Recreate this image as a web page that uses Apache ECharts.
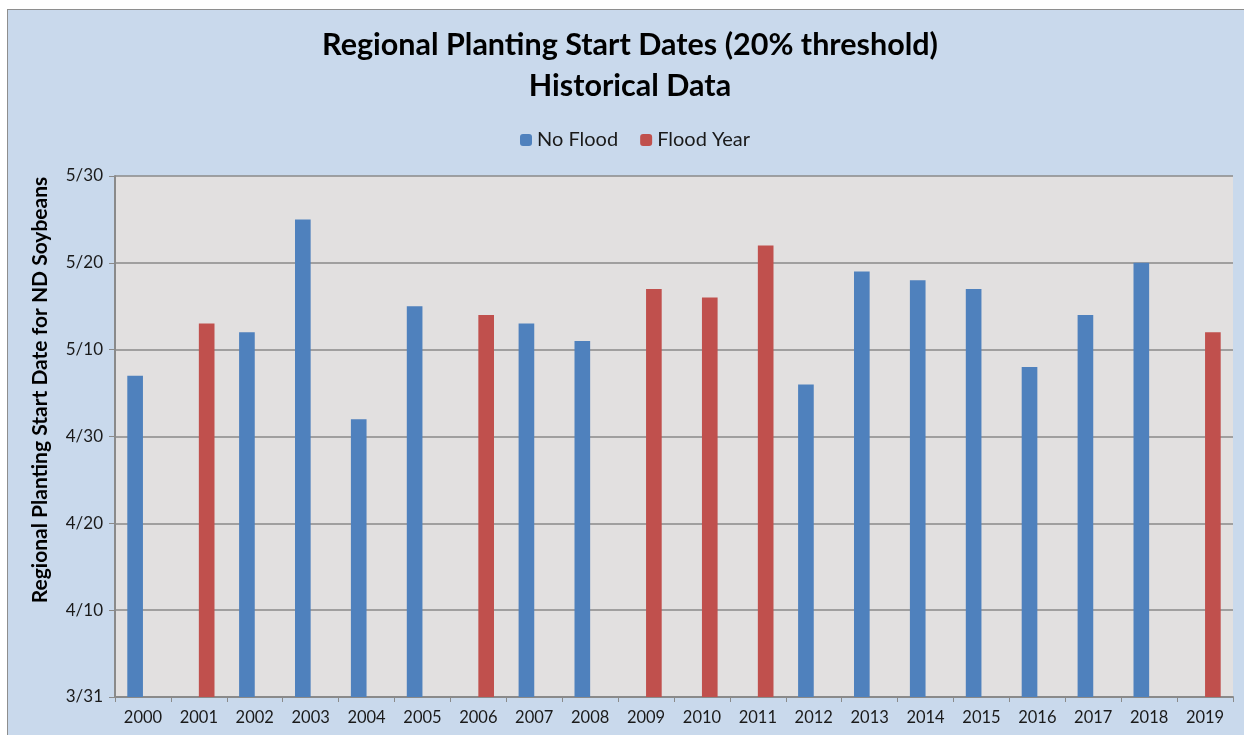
<!DOCTYPE html>
<html>
<head>
    <meta charset="utf-8">
    <title>Regional Planting Start Dates</title>
    <script src="https://cdn.jsdelivr.net/npm/echarts@6/dist/echarts.min.js"></script>
    <style>
        * {
            margin: 0;
            padding: 0;
        }
        body, html {
            background: #ffffff;
            overflow: hidden;
        }
        #frame {
            position: absolute;
            left: 7px;
            top: 9px;
            width: 1260px;
            height: 760px;
            background: #c9d9ec;
            border: 1px solid #8e8e8e;
        }
        #main {
            position: absolute;
            left: 0;
            top: 0;
            width: 1244px;
            height: 735px;
        }
    </style>
</head>
<body>
<div id="frame"></div>
<div id="main"></div>
<script>
    // categories
    var years = ['2000','2001','2002','2003','2004','2005','2006','2007','2008','2009',
                 '2010','2011','2012','2013','2014','2015','2016','2017','2018','2019'];
    // planting start dates (m/d), null where the year belongs to the other series
    var noFloodDates = ['5/7', null, '5/12', '5/25', '5/2', '5/15', null, '5/13', '5/11', null,
                        null, null, '5/6', '5/19', '5/18', '5/17', '5/8', '5/14', '5/20', null];
    var floodDates   = [null, '5/13', null, null, null, null, '5/14', null, null, '5/17',
                        '5/16', '5/22', null, null, null, null, null, null, null, '5/12'];
    // y tick labels, every 10 days from 3/31
    var dateTicks = ['3/31', '4/10', '4/20', '4/30', '5/10', '5/20', '5/30'];

    // days after 3/31
    function dayOf(s) {
        if (s === null) return null;
        var p = s.split('/');
        var m = +p[0], d = +p[1];
        if (m === 3) return d - 31;
        if (m === 4) return d;
        return 30 + d;
    }

    var font = 'Lato';
    var chart = echarts.init(document.getElementById('main'));
    var option = {
        backgroundColor: 'transparent',
        animation: false,
        textStyle: { fontFamily: font },
        legend: {
            top: 125,
            left: 515,
            itemWidth: 12,
            itemHeight: 12,
            itemGap: 22,
            textStyle: { fontFamily: font, fontSize: 20, color: '#1a1a1a' },
            data: ['No Flood', 'Flood Year']
        },
        graphic: [
            {
                // chart title, two centred lines
                type: 'text',
                x: 630,
                y: 66,
                style: {
                    text: 'Regional Planting Start Dates (20% threshold)\nHistorical Data',
                    fontFamily: font,
                    fontSize: 30.5,
                    fontWeight: 'bold',
                    lineHeight: 41,
                    fill: '#000',
                    align: 'center',
                    verticalAlign: 'middle'
                }
            },
            {
                // y axis title
                type: 'text',
                x: 40,
                y: 390,
                rotation: Math.PI / 2,
                style: {
                    text: 'Regional Planting Start Date for ND Soybeans',
                    fontFamily: font,
                    fontSize: 21,
                    fontWeight: 'bold',
                    fill: '#000',
                    align: 'center',
                    verticalAlign: 'middle'
                }
            }
        ],
        grid: {
            left: 115,
            right: 11,
            top: 176,
            bottom: 38,
            show: true,
            backgroundColor: '#e2e0e0',
            borderWidth: 0
        },
        xAxis: {
            type: 'category',
            data: years,
            axisLine: { lineStyle: { color: '#8a8a8a', width: 2 } },
            axisTick: { show: true, alignWithLabel: false, length: 5, lineStyle: { color: '#8a8a8a' } },
            axisLabel: { fontFamily: font, fontSize: 16.5, color: '#1a1a1a', margin: 12 }
        },
        yAxis: {
            type: 'value',
            min: 0,
            max: 60,
            interval: 10,
            axisLine: { show: true, lineStyle: { color: '#8a8a8a', width: 2 } },
            axisTick: { show: true, length: 6, lineStyle: { color: '#8a8a8a' } },
            splitLine: { show: true, lineStyle: { color: '#8a8a8a', width: 1.5 } },
            axisLabel: {
                fontFamily: font,
                fontSize: 17,
                color: '#1a1a1a',
                margin: 12,
                formatter: function (v) { return dateTicks[v / 10]; }
            }
        },
        series: [
            {
                name: 'No Flood',
                type: 'bar',
                barGap: '0%',
                barCategoryGap: '44%',
                itemStyle: { color: '#4f81bd' },
                data: noFloodDates.map(dayOf)
            },
            {
                name: 'Flood Year',
                type: 'bar',
                barGap: '0%',
                barCategoryGap: '44%',
                itemStyle: { color: '#c0504d' },
                data: floodDates.map(dayOf)
            }
        ]
    };
    chart.setOption(option);
</script>
</body>
</html>
